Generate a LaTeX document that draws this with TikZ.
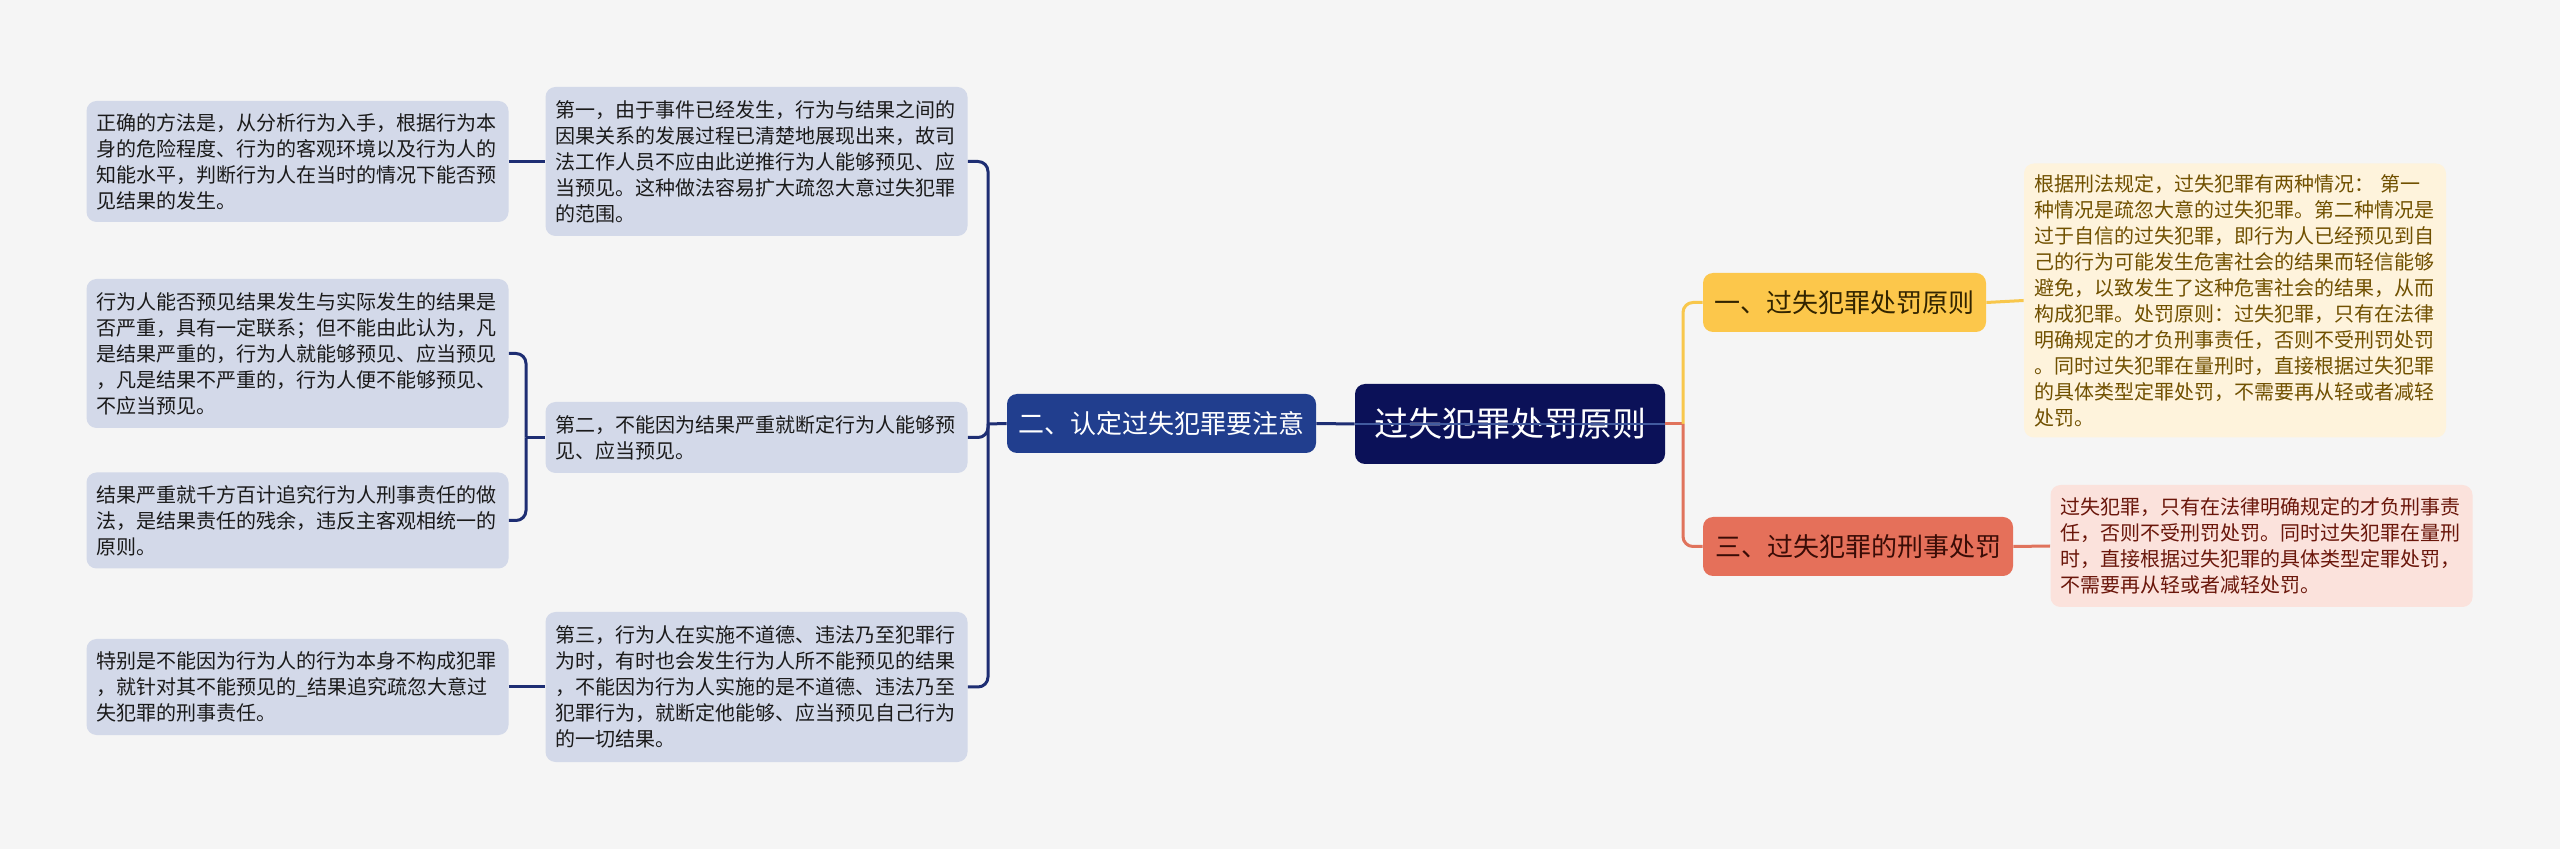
\documentclass[tikz,border=0pt]{standalone}
\usepackage{fontspec}
\setmainfont{Noto Sans CJK SC}
\usepackage{tikz}
\usetikzlibrary{positioning}
\usepackage{xcolor}
\definecolor{bggray}{RGB}{245,245,245}
\definecolor{rootnavy}{RGB}{11,17,88}
\definecolor{branchblue}{RGB}{33,62,142}
\definecolor{linenavy}{RGB}{30,46,115}
\definecolor{leafblue}{RGB}{211,217,233}
\definecolor{leaftext}{RGB}{26,26,26}
\definecolor{branchyellow}{RGB}{252,199,75}
\definecolor{lineyellow}{RGB}{248,199,76}
\definecolor{leafyellow}{RGB}{254,243,220}
\definecolor{yellowtext}{RGB}{112,80,0}
\definecolor{branchred}{RGB}{229,112,90}
\definecolor{linered}{RGB}{224,115,92}
\definecolor{leafpink}{RGB}{251,226,220}
\definecolor{pinktext}{RGB}{106,22,10}
\tikzset{leafnode/.style={rounded corners=5pt, text width=201pt, align=left, inner xsep=5pt, inner ysep=3pt, font=\fontsize{10}{13}\selectfont},bluenode/.style={leafnode, fill=leafblue, text=leaftext}}
\tikzset{branchnode/.style={rounded corners=5pt, align=center, minimum height=29.5pt, inner sep=0pt, font=\fontsize{13}{15}\selectfont}}

\begin{document}
\begin{tikzpicture}[
        x=0.5pt, y=-0.5pt,
        navyline/.style={draw=linenavy, line width=1.5pt, rounded corners=5pt},
        yellowline/.style={draw=lineyellow, line width=1.5pt, rounded corners=5pt},
        redline/.style={draw=linered, line width=1.5pt, rounded corners=5pt},
    ]
        % Canvas
        \useasboundingbox (0,0) rectangle (2560,849);
        \fill[bggray] (0,0) rectangle (2560,849);
        % Centre and branches
        \node[rounded corners=5pt, fill=rootnavy, text=white, minimum width=155pt, minimum height=40pt, inner sep=0pt, font=\fontsize{17}{20}\selectfont] (root) at (1510,424) {过失犯罪处罚原则};
        \node[branchnode, fill=branchblue, text=white, minimum width=154.5pt] (notice) at (1161.5,423.5) {二、认定过失犯罪要注意};
        \node[branchnode, fill=branchyellow, text=yellowtext!45!black, minimum width=141.5pt] (rule) at (1844.5,302.5) {一、过失犯罪处罚原则};
        \node[branchnode, fill=branchred, text=pinktext!55!black, minimum width=155pt] (penalty) at (1858,546.5) {三、过失犯罪的刑事处罚};
        % Right leaves
        \node[leafnode, fill=leafyellow, text=yellowtext, minimum height=137pt] (ruletext) at (2235,300.5) {根据刑法规定，过失犯罪有两种情况： 第一\\
            种情况是疏忽大意的过失犯罪。第二种情况是\\
            过于自信的过失犯罪，即行为人已经预见到自\\
            己的行为可能发生危害社会的结果而轻信能够\\
            避免，以致发生了这种危害社会的结果，从而\\
            构成犯罪。处罚原则：过失犯罪，只有在法律\\
            明确规定的才负刑事责任，否则不受刑罚处罚\\
            。同时过失犯罪在量刑时，直接根据过失犯罪\\
            的具体类型定罪处罚，不需要再从轻或者减轻\\
            处罚。};
        \node[leafnode, fill=leafpink, text=pinktext, minimum height=61pt] (penaltytext) at (2261.5,546) {过失犯罪，只有在法律明确规定的才负刑事责\\
            任，否则不受刑罚处罚。同时过失犯罪在量刑\\
            时，直接根据过失犯罪的具体类型定罪处罚，\\
            不需要再从轻或者减轻处罚。};
        % Middle column
        \node[bluenode, minimum height=74.5pt] (first) at (756.5,161.5) {第一，由于事件已经发生，行为与结果之间的\\
            因果关系的发展过程已清楚地展现出来，故司\\
            法工作人员不应由此逆推行为人能够预见、应\\
            当预见。这种做法容易扩大疏忽大意过失犯罪\\
            的范围。};
        \node[bluenode, minimum height=35.5pt] (second) at (756.5,437.5) {第二，不能因为结果严重就断定行为人能够预\\
            见、应当预见。};
        \node[bluenode, minimum height=75pt] (third) at (756.5,687) {第三，行为人在实施不道德、违法乃至犯罪行\\
            为时，有时也会发生行为人所不能预见的结果\\
            ，不能因为行为人实施的是不道德、违法乃至\\
            犯罪行为，就断定他能够、应当预见自己行为\\
            的一切结果。};
        % Left column
        \node[bluenode, minimum height=60.5pt] (method) at (297.5,161.5) {正确的方法是，从分析行为入手，根据行为本\\
            身的危险程度、行为的客观环境以及行为人的\\
            知能水平，判断行为人在当时的情况下能否预\\
            见结果的发生。};
        \node[bluenode, minimum height=74.5pt] (relation) at (297.5,353.5) {行为人能否预见结果发生与实际发生的结果是\\
            否严重，具有一定联系；但不能由此认为，凡\\
            是结果严重的，行为人就能够预见、应当预见\\
            ，凡是结果不严重的，行为人便不能够预见、\\
            不应当预见。};
        \node[bluenode, minimum height=48pt] (residue) at (297.5,520.5) {结果严重就千方百计追究行为人刑事责任的做\\
            法，是结果责任的残余，违反主客观相统一的\\
            原则。};
        \node[bluenode, minimum height=48pt] (special) at (297.5,687) {特别是不能因为行为人的行为本身不构成犯罪\\
            ，就针对其不能预见的\_结果追究疏忽大意过\\
            失犯罪的刑事责任。};
        % Junctions
        \coordinate (leftfork) at (988,424);
        \coordinate (midfork) at (526,437.5);
        \coordinate (rightfork) at (1683,424);
        % Lines
        \draw[navyline] (notice.west) -- (leftfork);
        \draw[navyline] (first.east) -| (leftfork);
        \draw[navyline] (second.east) -| (leftfork);
        \draw[navyline] (third.east) -| (leftfork);
        \draw[navyline] (method.east) -- (first.west);
        \draw[navyline] (second.west) -- (midfork);
        \draw[navyline] (relation.east) -| (midfork);
        \draw[navyline] (residue.east) -| (midfork);
        \draw[navyline] (special.east) -- (third.west);
        \draw[navyline] (root.west) -- (notice.east);
        \draw[draw=branchblue!85!white, line width=1pt] (root.west) -- (root.east);
        \draw[redline] (root.east) -- (rightfork);
        \draw[yellowline] (rule.west) -| (rightfork);
        \draw[redline] (penalty.west) -| (rightfork);
        \draw[yellowline] (rule.east) -- (ruletext.west);
        \draw[redline] (penalty.east) -- (penaltytext.west);
    \end{tikzpicture}
\end{document}
